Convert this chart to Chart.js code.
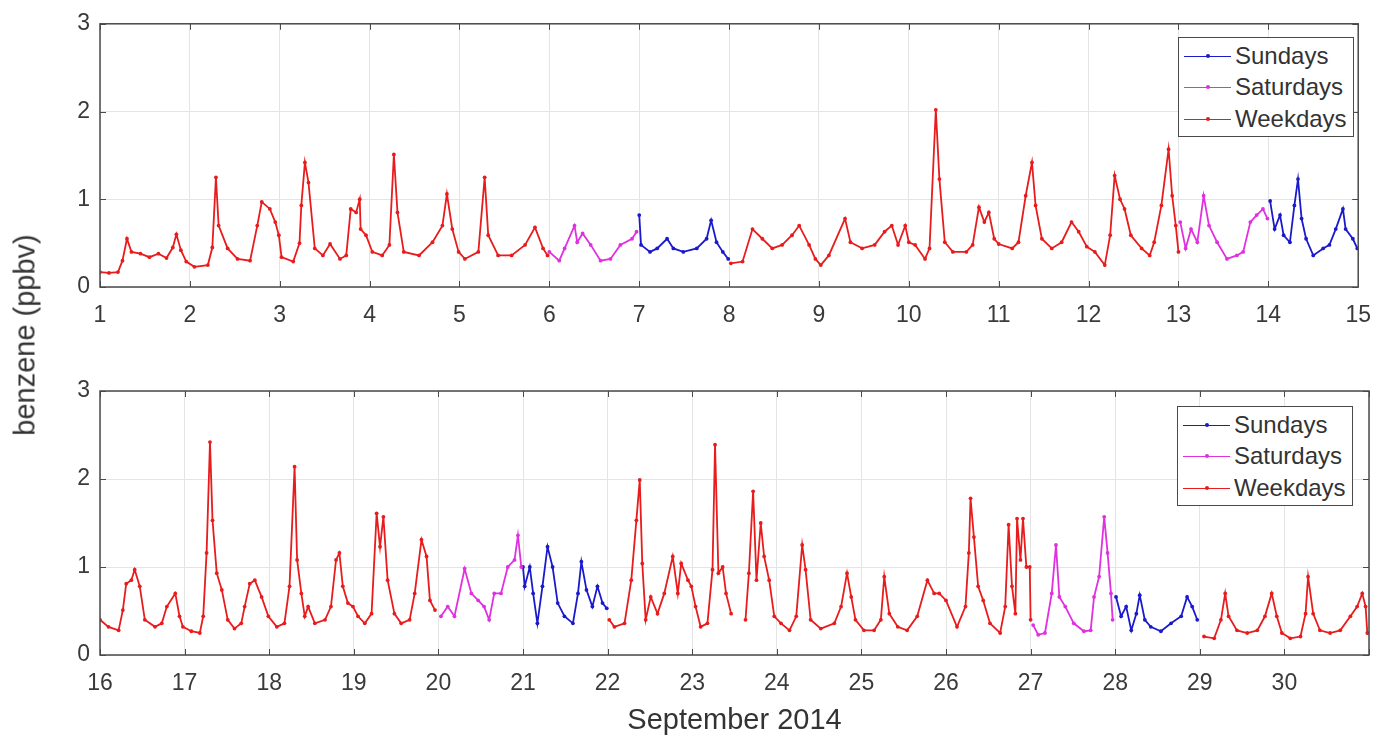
<!DOCTYPE html>
<html>
<head>
<meta charset="utf-8">
<script src="https://cdn.jsdelivr.net/npm/chart.js@4.4.1/dist/chart.umd.min.js"></script>
<style>
  body { margin: 0; background: #fff; font-family: "Liberation Sans", Arial, sans-serif; }
  #wrap { position: relative; width: 1386px; height: 738px; overflow: hidden; }
  #top { position: absolute; left: 0; top: 0; }
  #bottom { position: absolute; left: 0; top: 360px; }
  .legend { position: absolute; background: #fff; border: 1px solid #4a4a4a; width: 174px; height: 98px; }
  .row { position: absolute; left: 0; height: 30px; width: 174px; }
  .row .ln { position: absolute; left: 5px; top: 15px; width: 47px; height: 0; border-top: 1px solid; }
  .row .dot { position: absolute; left: 27px; top: 13px; width: 4px; height: 4px; border-radius: 2px; }
  .row .tx { position: absolute; left: 56px; top: 1px; font-size: 24px; line-height: 28px; color: #333; }
  #ylab { position: absolute; left: 25px; top: 335px; transform: translate(-50%, -50%) rotate(-90deg);
          font-size: 29px; color: #333; white-space: nowrap; }
</style>
</head>
<body>
<div id="wrap">
  <canvas id="top" width="1386" height="330"></canvas>
  <canvas id="bottom" width="1386" height="378"></canvas>
  <div id="ylab">benzene (ppbv)</div>
  <div class="legend" style="left:1178px; top:37px;">
    <div class="row" style="top:3px"><div class="ln" style="border-color:#1a1acc"></div><div class="dot" style="background:#1a1acc"></div><div class="tx">Sundays</div></div>
    <div class="row" style="top:34px"><div class="ln" style="border-color:#e030e0"></div><div class="dot" style="background:#e030e0"></div><div class="tx">Saturdays</div></div>
    <div class="row" style="top:66px"><div class="ln" style="border-color:#e81c1c"></div><div class="dot" style="background:#e81c1c"></div><div class="tx">Weekdays</div></div>
  </div>
  <div class="legend" style="left:1177px; top:406px;">
    <div class="row" style="top:3px"><div class="ln" style="border-color:#1a1acc"></div><div class="dot" style="background:#1a1acc"></div><div class="tx">Sundays</div></div>
    <div class="row" style="top:34px"><div class="ln" style="border-color:#e030e0"></div><div class="dot" style="background:#e030e0"></div><div class="tx">Saturdays</div></div>
    <div class="row" style="top:66px"><div class="ln" style="border-color:#e81c1c"></div><div class="dot" style="background:#e81c1c"></div><div class="tx">Weekdays</div></div>
  </div>
</div>
<script>
// [day of September 2014, benzene ppbv] -- each inner list is one unbroken stretch
const yTicks = [0, 1, 2, 3];
const topDays = [1, 15];
const bottomDays = [16, 31];

const topWeekdays = [
  [[1.00,0.17],[1.10,0.16],[1.20,0.17],[1.25,0.30],[1.30,0.55],[1.35,0.40],[1.45,0.38],[1.55,0.34],[1.65,0.38],[1.74,0.33],[1.81,0.45],[1.85,0.60],[1.90,0.42],[1.96,0.29],
   [2.05,0.23],[2.20,0.25],[2.25,0.45],[2.29,1.25],[2.32,0.70],[2.42,0.44],[2.53,0.32],[2.67,0.30],[2.75,0.70],[2.80,0.97],[2.89,0.89],[2.95,0.74],[2.99,0.59],
   [3.02,0.34],[3.15,0.29],[3.22,0.50],[3.24,0.93],[3.28,1.42],[3.32,1.19],[3.39,0.44],[3.48,0.36],[3.56,0.49],[3.67,0.32],[3.74,0.36],[3.79,0.89],[3.85,0.85],[3.89,1.00],[3.90,0.66],[3.96,0.59],
   [4.03,0.40],[4.14,0.36],[4.22,0.48],[4.27,1.51],[4.31,0.85],[4.38,0.40],[4.55,0.36],[4.70,0.51],[4.81,0.70],[4.86,1.06],[4.92,0.66],[4.99,0.40],
   [5.06,0.32],[5.21,0.40],[5.28,1.25],[5.32,0.59],[5.43,0.36],[5.58,0.36],[5.73,0.48],[5.84,0.68],[5.93,0.44],[5.98,0.36]],
  [[8.02,0.27],[8.15,0.29],[8.26,0.66],[8.37,0.55],[8.48,0.44],[8.59,0.48],[8.70,0.59],[8.78,0.70],[8.89,0.48],[8.96,0.32],
   [9.02,0.25],[9.11,0.36],[9.29,0.78],[9.35,0.51],[9.48,0.44],[9.62,0.48],[9.73,0.63],[9.81,0.70],[9.88,0.48],[9.96,0.70],[10.00,0.51],
   [10.07,0.48],[10.18,0.32],[10.23,0.44],[10.30,2.02],[10.34,1.23],[10.40,0.51],[10.49,0.40],[10.64,0.40],[10.71,0.48],[10.78,0.91],[10.84,0.74],[10.89,0.85],[10.95,0.55],[11.00,0.49],
   [11.15,0.44],[11.22,0.51],[11.30,1.04],[11.37,1.42],[11.41,0.93],[11.48,0.55],[11.59,0.44],[11.70,0.51],[11.81,0.74],[11.89,0.63],[11.98,0.46],
   [12.07,0.40],[12.18,0.25],[12.24,0.59],[12.29,1.27],[12.35,1.00],[12.40,0.89],[12.47,0.59],[12.59,0.44],[12.68,0.36],[12.73,0.51],[12.81,0.93],[12.89,1.57],[12.93,1.04],[12.97,0.70],[13.00,0.40]]
];
const topSaturdays = [
  [[6.00,0.40],[6.11,0.30],[6.17,0.44],[6.28,0.70],[6.31,0.51],[6.37,0.61],[6.46,0.48],[6.57,0.30],[6.68,0.32],[6.79,0.48],[6.92,0.55],[6.97,0.63]],
  [[13.02,0.74],[13.08,0.44],[13.14,0.66],[13.21,0.51],[13.28,1.04],[13.34,0.70],[13.43,0.51],[13.54,0.32],[13.65,0.36],[13.72,0.40],[13.80,0.74],[13.87,0.82],[13.94,0.89],[13.99,0.78]]
];
const topSundays = [
  [[7.00,0.82],[7.02,0.48],[7.12,0.40],[7.20,0.44],[7.31,0.55],[7.38,0.44],[7.49,0.40],[7.64,0.44],[7.75,0.55],[7.80,0.76],[7.86,0.51],[7.93,0.40],[7.99,0.32]],
  [[14.02,0.98],[14.07,0.66],[14.13,0.82],[14.17,0.59],[14.24,0.51],[14.29,0.93],[14.33,1.23],[14.37,0.78],[14.42,0.55],[14.50,0.36],[14.61,0.44],[14.68,0.48],[14.75,0.66],[14.83,0.89],[14.86,0.66],[14.94,0.55],[14.99,0.44]]
];

const bottomWeekdays = [
  [[16.00,0.40],[16.10,0.32],[16.22,0.28],[16.27,0.51],[16.31,0.81],[16.37,0.85],[16.41,0.97],[16.47,0.78],[16.53,0.40],[16.65,0.32],[16.73,0.36],[16.79,0.55],[16.89,0.70],[16.94,0.44],[16.98,0.32],
   [17.08,0.27],[17.18,0.25],[17.22,0.44],[17.26,1.16],[17.30,2.42],[17.33,1.53],[17.38,0.93],[17.44,0.74],[17.51,0.40],[17.59,0.30],[17.67,0.36],[17.71,0.55],[17.77,0.81],[17.83,0.85],[17.91,0.66],[17.99,0.44],
   [18.09,0.32],[18.18,0.36],[18.24,0.78],[18.30,2.14],[18.33,1.08],[18.38,0.70],[18.42,0.44],[18.46,0.55],[18.54,0.36],[18.66,0.40],[18.73,0.55],[18.79,1.08],[18.83,1.16],[18.87,0.78],[18.93,0.59],[18.99,0.55],
   [19.05,0.44],[19.13,0.36],[19.21,0.47],[19.27,1.61],[19.31,1.23],[19.35,1.57],[19.40,0.85],[19.48,0.47],[19.56,0.36],[19.66,0.40],[19.72,0.70],[19.80,1.31],[19.86,1.12],[19.90,0.62],[19.96,0.51]],
  [[22.02,0.40],[22.08,0.32],[22.20,0.36],[22.28,0.85],[22.34,1.53],[22.38,1.99],[22.41,1.04],[22.45,0.40],[22.51,0.66],[22.59,0.47],[22.67,0.70],[22.77,1.12],[22.83,0.70],[22.87,1.04],[22.95,0.85],[22.99,0.78],
   [23.04,0.55],[23.10,0.32],[23.18,0.36],[23.24,0.97],[23.27,2.39],[23.31,0.93],[23.36,1.00],[23.40,0.70],[23.46,0.47]],
  [[23.63,0.40],[23.67,0.93],[23.72,1.86],[23.76,0.85],[23.81,1.50],[23.85,1.12],[23.91,0.85],[23.97,0.44],
   [24.05,0.36],[24.15,0.28],[24.23,0.44],[24.30,1.25],[24.34,0.97],[24.40,0.40],[24.52,0.30],[24.68,0.36],[24.76,0.55],[24.83,0.93],[24.88,0.66],[24.93,0.40],
   [25.03,0.28],[25.15,0.28],[25.23,0.40],[25.27,0.89],[25.33,0.47],[25.43,0.32],[25.54,0.28],[25.66,0.44],[25.78,0.85],[25.86,0.70],[25.92,0.70],[26.00,0.62],
   [26.13,0.32],[26.23,0.55],[26.27,1.16],[26.29,1.78],[26.33,1.34],[26.38,0.78],[26.44,0.62],[26.52,0.36],[26.64,0.25],[26.70,0.55],[26.74,1.48],[26.78,0.78],[26.82,0.47],[26.84,1.55],[26.88,1.08],[26.91,1.55],[26.95,1.00],[26.99,1.00],[27.00,0.40]],
  [[29.05,0.21],[29.17,0.19],[29.25,0.40],[29.30,0.70],[29.34,0.44],[29.44,0.28],[29.56,0.25],[29.68,0.28],[29.77,0.44],[29.85,0.70],[29.91,0.44],[29.97,0.25],
   [30.07,0.19],[30.19,0.21],[30.25,0.47],[30.28,0.89],[30.34,0.47],[30.42,0.28],[30.54,0.25],[30.66,0.28],[30.78,0.44],[30.86,0.55],[30.92,0.70],[30.96,0.55],[30.98,0.25]]
];
const bottomSaturdays = [
  [[20.03,0.44],[20.11,0.55],[20.19,0.44],[20.31,0.98],[20.39,0.70],[20.47,0.62],[20.54,0.55],[20.60,0.40],[20.66,0.70],[20.74,0.70],[20.82,1.00],[20.90,1.08],[20.94,1.36],[20.98,1.00]],
  [[27.03,0.34],[27.09,0.23],[27.17,0.25],[27.25,0.70],[27.30,1.25],[27.34,0.66],[27.41,0.55],[27.51,0.36],[27.63,0.27],[27.71,0.28],[27.75,0.66],[27.81,0.89],[27.87,1.57],[27.91,1.16],[27.95,0.70],[27.97,0.40]]
];
const bottomSundays = [
  [[21.00,1.00],[21.02,0.78],[21.08,1.00],[21.12,0.70],[21.17,0.36],[21.23,0.78],[21.29,1.23],[21.35,1.00],[21.41,0.59],[21.49,0.44],[21.59,0.36],[21.65,0.70],[21.69,1.06],[21.75,0.74],[21.82,0.55],[21.88,0.78],[21.94,0.59],[21.99,0.53]],
  [[28.01,0.66],[28.07,0.44],[28.13,0.55],[28.19,0.28],[28.25,0.47],[28.29,0.68],[28.35,0.40],[28.42,0.32],[28.54,0.27],[28.66,0.36],[28.78,0.44],[28.85,0.66],[28.91,0.55],[28.97,0.40]]
];

const colWeekdays = '#e81c1c';
const colSaturdays = '#e030e0';
const colSundays = '#1a1acc';

function toPoints(segments) {
    const out = [];
    segments.forEach(function (seg, i) {
        if (i > 0) out.push({x: seg[0][0], y: null});
        seg.forEach(function (p) { out.push({x: p[0], y: p[1]}); });
    });
    return out;
}

function series(label, segments, color) {
    return {
        label: label,
        data: toPoints(segments),
        borderColor: color,
        backgroundColor: color,
        borderWidth: 1.8,
        pointRadius: 1.9,
        pointBorderWidth: 0,
        pointBackgroundColor: color,
        spanGaps: false,
        tension: 0
    };
}

// MATLAB style box with inward tick marks on all four sides
const boxPlugin = {
    id: 'box',
    afterDraw: function (chart) {
        const ctx = chart.ctx, a = chart.chartArea;
        const xs = chart.scales.x, ys = chart.scales.y;
        ctx.save();
        ctx.strokeStyle = '#4a4a4a';
        ctx.lineWidth = 1;
        ctx.beginPath();
        xs.ticks.forEach(function (t) {
            const px = Math.round(xs.getPixelForValue(t.value)) + 0.5;
            ctx.moveTo(px, a.bottom); ctx.lineTo(px, a.bottom - 6);
            ctx.moveTo(px, a.top); ctx.lineTo(px, a.top + 6);
        });
        ys.ticks.forEach(function (t) {
            const py = Math.round(ys.getPixelForValue(t.value)) + 0.5;
            ctx.moveTo(a.left, py); ctx.lineTo(a.left + 6, py);
            ctx.moveTo(a.right, py); ctx.lineTo(a.right - 6, py);
        });
        ctx.stroke();
        ctx.lineWidth = 1.5;
        ctx.strokeRect(a.left, a.top, a.right - a.left, a.bottom - a.top);
        ctx.restore();
    }
};

function createPanel(id, days, wk, sat, sun, padTop, xHeight, withTitle) {
    const ctx = document.getElementById(id).getContext('2d');
    const myChart = new Chart(ctx, {
        type: 'line',
        data: {
            datasets: [
                series('Weekdays', wk, colWeekdays),
                series('Saturdays', sat, colSaturdays),
                series('Sundays', sun, colSundays)
            ]
        },
        options: {
            responsive: false,
            animation: false,
            devicePixelRatio: 1,
            layout: { padding: { top: padTop, right: 17, left: 0, bottom: 0 } },
            plugins: { legend: { display: false }, tooltip: { enabled: false } },
            scales: {
                x: {
                    type: 'linear',
                    min: days[0],
                    max: days[1],
                    afterFit: function (s) { s.height = xHeight; },
                    grid: { color: '#e4e4e4', drawTicks: false },
                    border: { display: false },
                    ticks: {
                        stepSize: 1,
                        autoSkip: false,
                        maxRotation: 0,
                        padding: 15,
                        color: '#3a3a3a',
                        font: { family: 'Liberation Sans', size: 23 },
                        callback: function (v) { return v > 30 ? '' : v; }
                    },
                    title: {
                        display: withTitle,
                        text: 'September 2014',
                        color: '#333',
                        padding: 0,
                        font: { family: 'Liberation Sans', size: 29 }
                    }
                },
                y: {
                    min: yTicks[0],
                    max: yTicks[yTicks.length - 1],
                    afterFit: function (s) { s.width = 100; },
                    afterBuildTicks: function (s) { s.ticks = yTicks.map(function (v) { return {value: v}; }); },
                    grid: { color: '#e4e4e4', drawTicks: false },
                    border: { display: false },
                    ticks: {
                        padding: 10,
                        color: '#3a3a3a',
                        font: { family: 'Liberation Sans', size: 23 }
                    }
                }
            }
        },
        plugins: [boxPlugin]
    });
    return myChart;
}

createPanel('top', topDays, topWeekdays, topSaturdays, topSundays, 22, 43, false);
createPanel('bottom', bottomDays, bottomWeekdays, bottomSaturdays, bottomSundays, 31, 83, true);
</script>
</body>
</html>
